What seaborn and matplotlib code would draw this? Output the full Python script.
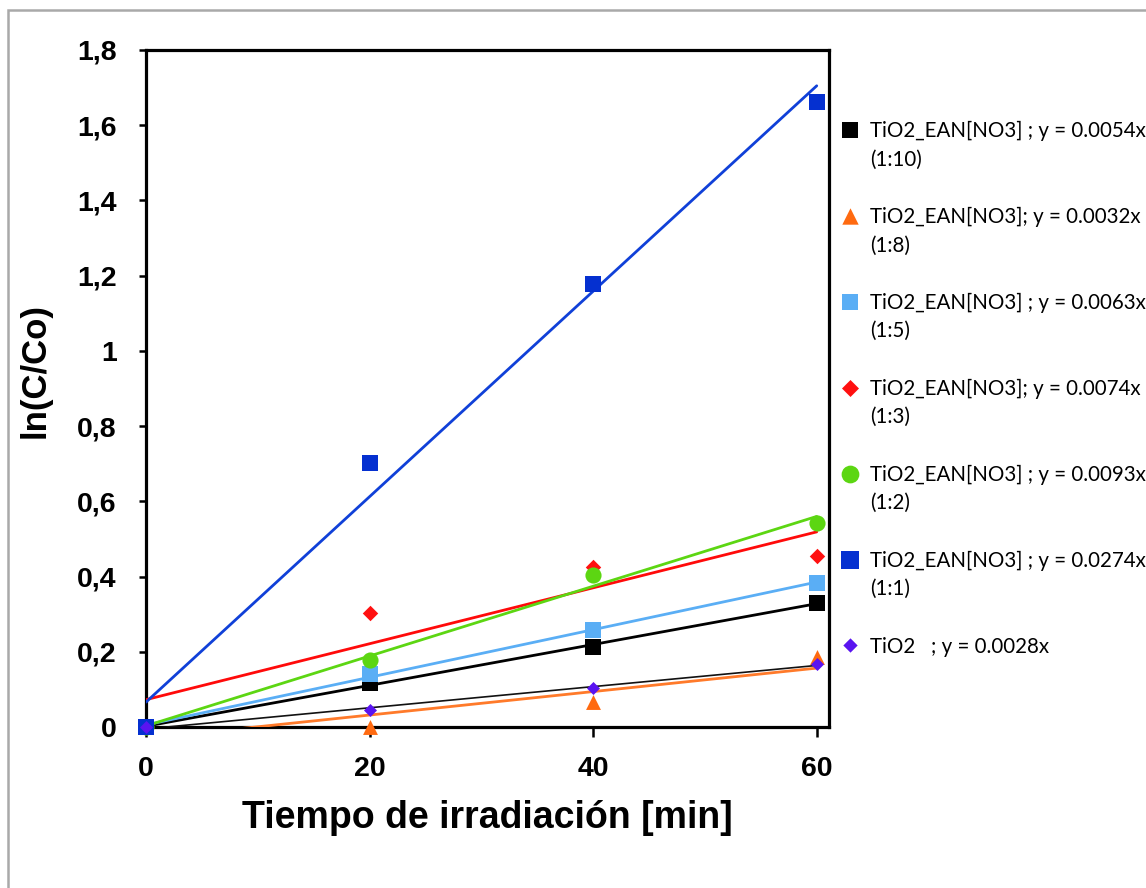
import numpy as np
import pandas as pd
import matplotlib
matplotlib.use("Agg")
import matplotlib.pyplot as plt
import seaborn as sns
from matplotlib.patches import Rectangle
from matplotlib.ticker import FuncFormatter, MultipleLocator
from matplotlib.font_manager import FontProperties

# Irradiation time (min)
time_min = [0, 20, 40, 60]

# ln(C/Co) for each catalyst : ionic-liquid ratio
ln_1_10 = [0.0, 0.117, 0.213, 0.330]
ln_1_8 = [0.0, 0.0, 0.066, 0.186]
ln_1_5 = [0.0, 0.141, 0.258, 0.383]
ln_1_3 = [0.0, 0.303, 0.425, 0.455]
ln_1_2 = [0.0, 0.178, 0.405, 0.543]
ln_1_1 = [0.0, 0.702, 1.178, 1.662]
ln_tio2 = [0.0, 0.045, 0.104, 0.168]

legend_labels = [
    "TiO2_EAN[NO3] ; y = 0.0054x",
    "TiO2_EAN[NO3]; y = 0.0032x",
    "TiO2_EAN[NO3] ; y = 0.0063x",
    "TiO2_EAN[NO3]; y = 0.0074x",
    "TiO2_EAN[NO3] ; y = 0.0093x",
    "TiO2_EAN[NO3] ; y = 0.0274x",
    "TiO2   ; y = 0.0028x",
]
ratio_labels = ["(1:10)", "(1:8)", "(1:5)", "(1:3)", "(1:2)", "(1:1)", ""]

sns.set_style("white")
plt.rcParams["font.family"] = ["Liberation Sans", "DejaVu Sans"]
plt.rcParams.update({
    "text.color": "black",
    "axes.labelcolor": "black",
    "xtick.color": "black",
    "ytick.color": "black",
})

series = [ln_1_10, ln_1_8, ln_1_5, ln_1_3, ln_1_2, ln_1_1, ln_tio2]
styles = [
    # marker, marker colour, size, line colour, line width
    ("s", "#000000", 120, "#000000", 2.0),
    ("^", "#FF6A10", 115, "#FF7A2A", 2.0),
    ("s", "#5AAEF5", 120, "#5AAEF5", 2.0),
    ("D", "#FF1010", 62, "#FF0A0A", 2.0),
    ("o", "#5CD612", 135, "#5CD612", 2.0),
    ("s", "#0530D0", 135, "#1040D8", 2.0),
    ("D", "#5A14F0", 44, "#111111", 1.2),
]

fig = plt.figure(figsize=(11.46, 8.88), dpi=100)
ax = fig.add_axes([0.1274, 0.1813, 0.596, 0.7624])

for vals, label, (mk, mc, ms, lc, lw) in zip(series, legend_labels, styles):
    df = pd.DataFrame({"t": time_min, "lnc": vals})
    sns.regplot(
        data=df, x="t", y="lnc", ax=ax, ci=None, truncate=True,
        marker=mk, label=label,
        scatter_kws={"s": ms, "color": mc, "alpha": 1, "linewidths": 0,
                     "clip_on": False, "zorder": 4},
        line_kws={"color": lc, "lw": lw, "zorder": 3},
    )

ax.set_xlim(0, 61.1)
ax.set_ylim(0, 1.8)
ax.xaxis.set_major_locator(MultipleLocator(20))
ax.yaxis.set_major_locator(MultipleLocator(0.2))
ax.yaxis.set_major_formatter(FuncFormatter(lambda v, p: f"{v:g}".replace(".", ",")))

for side in ["left", "bottom", "right", "top"]:
    ax.spines[side].set_visible(True)
    ax.spines[side].set_color("black")
    ax.spines[side].set_linewidth(2.3)

ax.tick_params(axis="y", direction="out", length=5, width=1.8, pad=16,
               labelsize=20.5, left=True, right=False)
ax.tick_params(axis="x", direction="out", length=7, width=1.8, pad=14,
               labelsize=20.5, bottom=True, top=False)
for t in ax.get_xticklabels() + ax.get_yticklabels():
    t.set_fontweight("bold")

ax.set_xlabel("Tiempo de irradiación [min]", fontsize=27, fontweight="bold", labelpad=13)
ax.set_ylabel("ln(C/Co)", fontsize=25, fontweight="bold")
ax.yaxis.set_label_coords(-0.138, 0.527)

handles, labels = ax.get_legend_handles_labels()
leg_font = FontProperties(family="Lato", size=14.8)
leg = ax.legend(
    handles, labels, loc="upper left",
    bbox_to_anchor=(841 / 1146, 1 - 121 / 888), bbox_transform=fig.transFigure,
    frameon=False, prop=leg_font, labelspacing=3.2, handlelength=0.9,
    handletextpad=0.5, borderpad=0, borderaxespad=0, scatteryoffsets=[0.5],
    markerscale=1.1,
)

# second line of each legend entry, placed just under its label
for txt, ratio in zip(leg.get_texts(), ratio_labels):
    if ratio:
        ax.annotate(ratio, xy=(0, 0), xycoords=txt, xytext=(0, -6),
                    textcoords="offset points", ha="left", va="top",
                    fontproperties=leg_font, zorder=7, annotation_clip=False)

# outer chart frame
fig.add_artist(Rectangle((8 / 1146, -0.1), 1.2, 0.1 + 1 - 10 / 888,
                         transform=fig.transFigure, fill=False,
                         edgecolor="#a9a9a9", lw=1.8, clip_on=False))

fig.canvas.draw()
fig.savefig("out.png", dpi=100)
